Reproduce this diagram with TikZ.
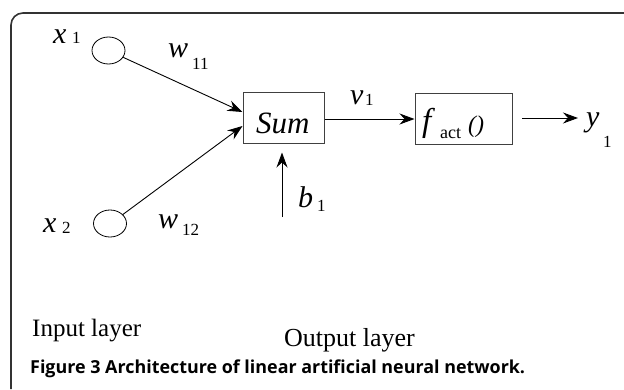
\documentclass[tikz,border=0pt]{standalone}
\usepackage{fontspec}
\setmainfont{Liberation Serif}
\newfontfamily\capfont{Open Sans}
\usetikzlibrary{arrows.meta,shapes.geometric}
\newcommand{\fs}[1]{\fontsize{#1}{#1}\selectfont}
\tikzset{
  lbl/.style={inner sep=0pt, anchor=base west, font=\fs{30}\itshape},
  sublbl/.style={inner sep=0pt, anchor=base west, font=\fs{17}},
  inp/.style={draw=black, line width=0.8pt, ellipse, minimum width=33pt, minimum height=27pt, inner sep=0pt},
  blk/.style={draw=black!75, line width=1pt, inner sep=0pt},
  conn/.style={line width=0.9pt, -{Stealth[length=15pt, width=11pt, inset=5pt]}},
  frame/.style={draw=black!80, line width=1.6pt, rounded corners=12pt},
}
\begin{document}
\begin{tikzpicture}[x=1pt, y=-1pt]
\useasboundingbox (0,0) rectangle (624,389);
\draw[frame] (11,389) -- (11,13) -- (640,13);
% inputs
\node[inp] (in1) at (108.5,50.5) {};
\node[inp] (in2) at (110,223.5) {};
\node[lbl] (x1) at (53,43) {x};
\node[sublbl] (x1s) at (72,43) {1};
\node[lbl] (x2) at (43,232) {x};
\node[sublbl] (x2s) at (62,233) {2};
% sum block
\node[blk, minimum width=81pt, minimum height=51pt] (sum) at (283.5,117.5) {};
\node[inner sep=0pt, anchor=base west, font=\fs{31}\itshape] (sumt) at (256,133) {Sum};
% f_act block
\node[blk, minimum width=97pt, minimum height=51pt] (fact) at (463.5,118.5) {};
\node[inner sep=0pt, anchor=base west, font=\fs{33}\itshape] (ff) at (422,131) {f};
\node[inner sep=0pt, anchor=base west, font=\fs{18}] (act) at (440,138) {act};
\node[inner sep=0pt, anchor=base west, font=\fs{24}\itshape] (par) at (468,132) {()};
% weights
\node[lbl] (w11) at (168,57) {w};
\node[sublbl] (w11s) at (192,69) {11};
\node[lbl] (w12) at (158,228) {w};
\node[sublbl] (w12s) at (182,235) {12};
% v1, b1, y1
\node[lbl] (v1) at (350,104) {v};
\node[sublbl] (v1s) at (365,105) {1};
\node[lbl] (b1) at (298,207) {b};
\node[sublbl] (b1s) at (317,211) {1};
\node[lbl] (y1) at (586,126) {y};
\node[sublbl] (y1s) at (603,147) {1};
% connectors
\coordinate (bstart) at (282,217);
\coordinate (outend) at (578,118);
\coordinate (outstart) at (522,118);
\draw[conn] (in1.-25) -- ([yshift=5.5pt]sum.west);
\draw[conn] (in2.35) -- ([yshift=-8.5pt]sum.west);
\draw[conn] (bstart) -- ([yshift=-9pt]sum.south -| bstart);
\draw[conn] (sum.east |- 0,119) -- (fact.west |- 0,119);
\draw[conn] (outstart) -- (outend);
% layer labels
\node[inner sep=0pt, anchor=base west, font=\fs{25}] (il) at (32,336) {Input layer};
\node[inner sep=0pt, anchor=base west, font=\fs{26}] (ol) at (284,346) {Output layer};
\node[inner sep=0pt, anchor=base west, font=\capfont\fs{17.9}\bfseries] (cap) at (30,373) {Figure 3 Architecture of linear artificial neural network.};
\end{tikzpicture}
\end{document}
